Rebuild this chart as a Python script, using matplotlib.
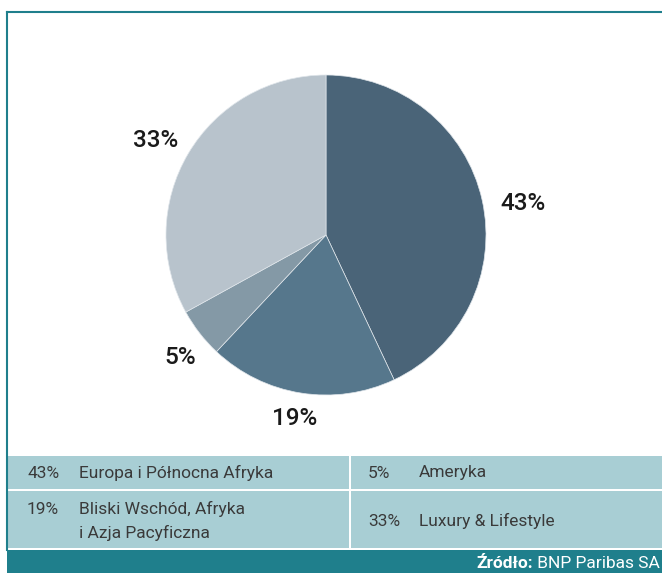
import matplotlib
matplotlib.use("Agg")
import numpy as np
import matplotlib.pyplot as plt
from matplotlib.patches import Rectangle

# dane
udzialy = [43, 19, 5, 33]
kolory = ['#4a6478', '#56778c', '#8499a6', '#b8c3cc']
wiersze_lewe = [('43%', 'Europa i Północna Afryka'), ('19%', 'Bliski Wschód, Afryka\ni Azja Pacyficzna')]
wiersze_prawe = [('5%', 'Ameryka'), ('33%', 'Luxury & Lifestyle')]
zrodlo_bold = 'Źródło:'
zrodlo = ' BNP Paribas SA'

plt.rcParams['font.family'] = ['Roboto', 'DejaVu Sans']

W, H = 662, 573
fig = plt.figure(figsize=(W / 100, H / 100), dpi=100)
fig.patch.set_facecolor('white')

# tło w pikselach
bg = fig.add_axes([0, 0, 1, 1])
bg.set_xlim(0, W)
bg.set_ylim(H, 0)
bg.axis('off')

teal = '#1f7f8c'
jasny = '#a8ced4'
# ramka
bg.plot([7, 7], [12, 550], color=teal, lw=1.5)
bg.plot([7, W], [12, 12], color=teal, lw=1.5)

# tabela
bg.add_patch(Rectangle((8, 456), 341, 33, color=jasny, lw=0))
bg.add_patch(Rectangle((351, 456), W - 351, 33, color=jasny, lw=0))
bg.add_patch(Rectangle((8, 491), 341, 57, color=jasny, lw=0))
bg.add_patch(Rectangle((351, 491), W - 351, 57, color=jasny, lw=0))
bg.add_patch(Rectangle((7, 550), W - 7, H - 550, color=teal, lw=0))

kolor_txt = '#3a3a3a'
fs = 12.5
y_wierszy = [473, 509]
for (pct, opis), y in zip(wiersze_lewe, y_wierszy):
    bg.text(27, y, pct, fontsize=fs, color=kolor_txt, va='center')
    linie = opis.split('\n')
    bg.text(79, y, linie[0], fontsize=fs, color=kolor_txt, va='center')
    if len(linie) > 1:
        bg.text(79, y + 24, linie[1], fontsize=fs, color=kolor_txt, va='center')
y_prawe = [473, 521]
for (pct, opis), y in zip(wiersze_prawe, y_prawe):
    bg.text(368, y, pct, fontsize=fs, color=kolor_txt, va='center')
    bg.text(419, y, opis, fontsize=fs, color=kolor_txt, va='center')

# stopka
t2 = bg.text(660, 563, zrodlo, fontsize=12.5, color='white', va='center', ha='right')
fig.canvas.draw()
bb = t2.get_window_extent()
x_px = bg.transData.inverted().transform((bb.x0, 0))[0]
bg.text(x_px, 563, zrodlo_bold, fontsize=12.5, color='white', va='center', ha='right', fontweight='bold')

# wykres kołowy
cx, cy, r = 326, 235, 160
ax = fig.add_axes([(cx - r) / W, (H - cy - r) / H, 2 * r / W, 2 * r / H])
wedges, teksty, auto = ax.pie(udzialy, colors=kolory, startangle=90, counterclock=False,
                               radius=1, autopct='%d%%', pctdistance=1.22,
                               wedgeprops=dict(linewidth=0.5, edgecolor='#dfe5ea'),
                               textprops=dict(fontsize=17.5, color='#1a1a1a', fontweight='medium'))
# lekkie przesunięcie etykiet jak w oryginale
odl = [1.25, 1.16, 1.19, 1.22]
kat_korekta = [-3.4, -0.6, 2.2, 1.5]
for w, t, d, k in zip(wedges, auto, odl, kat_korekta):
    kat = np.deg2rad((w.theta1 + w.theta2) / 2 + k)
    t.set_position((d * np.cos(kat), d * np.sin(kat)))
ax.set_xlim(-1, 1)
ax.set_ylim(-1, 1)
ax.axis('off')

fig.savefig('out.png', dpi=100, facecolor='white')
